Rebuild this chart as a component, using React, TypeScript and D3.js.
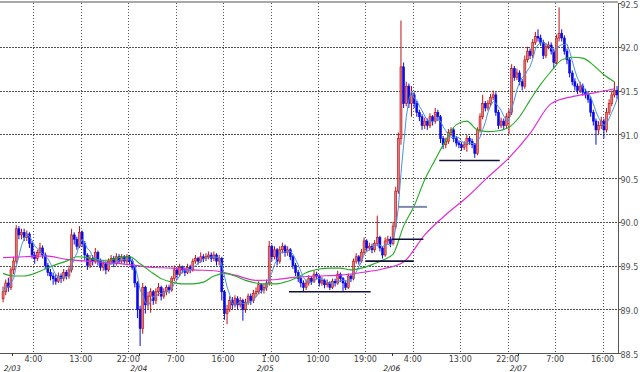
import React from "react";
import * as d3 from "d3";

const W = 640;
const H = 372;

// 30-minute candles, first bar starts 2/02 22:00 (hour -2 relative to 2/03 0:00)
const startHour = -2;
const barHours = 0.5;
const firstOpen = 89.12;

const closes = [
  89.20, 89.30, 89.25, 89.45, 89.55, 89.92, 89.85, 89.88, 89.82, 89.86,
  89.75, 89.62, 89.58, 89.65, 89.70, 89.62, 89.50, 89.42, 89.38, 89.35,
  89.32, 89.38, 89.35, 89.42, 89.38, 89.45, 89.85, 89.80, 89.72, 89.88,
  89.75, 89.62, 89.50, 89.58, 89.55, 89.65, 89.55, 89.48, 89.52, 89.45,
  89.55, 89.58, 89.52, 89.60, 89.55, 89.60, 89.55, 89.60, 89.55, 89.48,
  89.30, 89.00, 88.78, 89.25, 89.05, 89.15, 89.20, 89.10, 89.20, 89.25,
  89.15, 89.20, 89.25, 89.22, 89.35, 89.45, 89.40, 89.48, 89.45, 89.42,
  89.48, 89.45, 89.55, 89.58, 89.55, 89.60, 89.58, 89.60, 89.62, 89.58,
  89.62, 89.55, 89.58, 89.20, 88.95, 89.00, 89.10, 89.05, 89.12, 89.05,
  89.10, 89.00, 89.08, 89.15, 89.10, 89.18, 89.20, 89.28, 89.22, 89.25,
  89.30, 89.72, 89.60, 89.68, 89.55, 89.68, 89.72, 89.65, 89.68, 89.60,
  89.50, 89.42, 89.35, 89.30, 89.25, 89.30, 89.35, 89.32, 89.40, 89.38,
  89.30, 89.33, 89.28, 89.30, 89.25, 89.32, 89.30, 89.40, 89.35, 89.30,
  89.25, 89.38, 89.35, 89.55, 89.60, 89.55, 89.65, 89.78, 89.70, 89.72,
  89.68, 89.75, 89.82, 89.70, 89.62, 89.78, 89.80, 89.75, 89.95, 90.35,
  90.95, 91.77, 91.35, 91.55, 91.35, 91.45, 91.35, 91.25, 91.20, 91.10,
  91.15, 91.10, 91.20, 91.15, 91.25, 91.20, 90.95, 90.88, 90.92, 91.02,
  91.05, 90.95, 90.90, 90.88, 90.85, 90.88, 90.95, 90.92, 90.88, 90.78,
  91.05, 91.20, 91.35, 91.30, 91.35, 91.42, 91.45, 91.25, 91.10, 91.15,
  91.10, 91.20, 91.25, 91.75, 91.65, 91.70, 91.60, 91.55, 91.85, 91.95,
  91.90, 92.05, 92.12, 92.10, 92.05, 91.90, 92.00, 92.02, 91.95, 91.82,
  92.10, 92.15, 92.10, 91.95, 91.85, 91.70, 91.60, 91.55, 91.50, 91.55,
  91.48, 91.45, 91.40, 91.25, 91.15, 91.05, 91.10, 91.15, 91.05, 91.25,
  91.35, 91.45, 91.50, 91.45,
];

const highs = [
  89.26, 89.34, 89.36, 89.48, 89.60, 89.96, 89.95, 89.92, 89.92, 89.90,
  89.88, 89.78, 89.66, 89.68, 89.76, 89.73, 89.65, 89.53, 89.46, 89.42,
  89.40, 89.42, 89.41, 89.46, 89.45, 89.50, 89.92, 89.88, 89.83, 89.95,
  89.90, 89.78, 89.64, 89.62, 89.62, 89.70, 89.67, 89.58, 89.56, 89.55,
  89.58, 89.62, 89.61, 89.64, 89.63, 89.63, 89.62, 89.63, 89.62, 89.58,
  89.50, 89.32, 89.04, 89.30, 89.27, 89.20, 89.24, 89.22, 89.24, 89.30,
  89.27, 89.24, 89.28, 89.28, 89.38, 89.50, 89.48, 89.52, 89.50, 89.48,
  89.52, 89.51, 89.58, 89.62, 89.60, 89.65, 89.63, 89.64, 89.66, 89.65,
  89.66, 89.64, 89.62, 89.60, 89.22, 89.05, 89.15, 89.14, 89.16, 89.15,
  89.14, 89.12, 89.12, 89.18, 89.18, 89.22, 89.25, 89.32, 89.30, 89.29,
  89.34, 89.78, 89.74, 89.72, 89.70, 89.72, 89.76, 89.74, 89.72, 89.70,
  89.62, 89.53, 89.45, 89.38, 89.33, 89.34, 89.39, 89.38, 89.44, 89.43,
  89.40, 89.37, 89.35, 89.34, 89.32, 89.35, 89.35, 89.44, 89.42, 89.37,
  89.33, 89.41, 89.40, 89.58, 89.64, 89.62, 89.69, 89.82, 89.80, 89.76,
  89.75, 89.79, 90.07, 89.84, 89.72, 89.82, 89.84, 89.83, 90.00, 90.40,
  91.02, 92.30, 91.82, 91.60, 91.58, 91.55, 91.48, 91.38, 91.28, 91.23,
  91.19, 91.18, 91.24, 91.22, 91.30, 91.28, 91.22, 90.98, 90.96, 91.06,
  91.08, 91.07, 90.98, 90.93, 90.91, 90.92, 90.99, 90.98, 90.95, 90.90,
  91.08, 91.24, 91.45, 91.38, 91.39, 91.46, 91.50, 91.48, 91.28, 91.19,
  91.18, 91.24, 91.29, 91.80, 91.78, 91.75, 91.73, 91.63, 91.90, 92.00,
  91.98, 92.09, 92.17, 92.20, 92.14, 92.08, 92.04, 92.06, 92.05, 91.98,
  92.14, 92.45, 92.20, 92.13, 91.98, 91.88, 91.73, 91.64, 91.58, 91.60,
  91.58, 91.52, 91.49, 91.43, 91.28, 91.18, 91.15, 91.20, 91.18, 91.30,
  91.40, 91.50, 91.60, 91.55,
];

const lows = [
  89.08, 89.16, 89.20, 89.22, 89.40, 89.52, 89.80, 89.80, 89.78, 89.78,
  89.70, 89.58, 89.52, 89.55, 89.62, 89.58, 89.46, 89.38, 89.33, 89.28,
  89.28, 89.30, 89.30, 89.32, 89.34, 89.35, 89.42, 89.74, 89.68, 89.70,
  89.71, 89.56, 89.45, 89.47, 89.50, 89.52, 89.50, 89.44, 89.44, 89.40,
  89.43, 89.51, 89.48, 89.50, 89.52, 89.52, 89.52, 89.52, 89.51, 89.45,
  89.25, 88.90, 88.58, 88.72, 88.95, 89.00, 88.96, 89.05, 89.06, 89.15,
  89.10, 89.12, 89.16, 89.18, 89.20, 89.32, 89.35, 89.38, 89.41, 89.38,
  89.40, 89.41, 89.43, 89.52, 89.51, 89.53, 89.54, 89.55, 89.57, 89.54,
  89.55, 89.50, 89.50, 89.10, 88.88, 88.83, 88.97, 89.00, 89.02, 89.00,
  89.02, 88.87, 88.96, 89.05, 89.05, 89.07, 89.14, 89.17, 89.18, 89.18,
  89.21, 89.27, 89.55, 89.57, 89.50, 89.52, 89.64, 89.60, 89.61, 89.56,
  89.46, 89.38, 89.31, 89.25, 89.20, 89.22, 89.27, 89.28, 89.30, 89.34,
  89.26, 89.27, 89.24, 89.25, 89.22, 89.23, 89.26, 89.28, 89.31, 89.21,
  89.22, 89.23, 89.31, 89.33, 89.52, 89.51, 89.53, 89.62, 89.66, 89.67,
  89.64, 89.65, 89.72, 89.66, 89.58, 89.60, 89.74, 89.71, 89.73, 89.92,
  90.32, 90.88, 91.30, 91.32, 91.30, 91.20, 91.30, 91.20, 91.15, 91.05,
  91.06, 91.05, 91.07, 91.10, 91.12, 91.15, 90.90, 90.83, 90.84, 90.89,
  90.98, 90.91, 90.86, 90.84, 90.81, 90.82, 90.80, 90.88, 90.84, 90.73,
  90.76, 91.02, 91.17, 91.26, 91.27, 91.32, 91.39, 91.21, 91.06, 91.07,
  91.06, 91.07, 91.00, 91.22, 91.61, 91.62, 91.56, 91.50, 91.52, 91.82,
  91.86, 91.87, 92.02, 92.06, 92.01, 91.86, 91.87, 91.97, 91.91, 91.75,
  91.80, 92.06, 92.06, 91.91, 91.80, 91.65, 91.56, 91.50, 91.46, 91.47,
  91.44, 91.41, 91.36, 91.20, 91.10, 90.88, 91.00, 91.06, 90.95, 91.02,
  91.22, 91.32, 91.42, 91.40,
];

// Medium moving average (green), read every 4 bars
const greenStep = 4;
const greenMA = [
  89.41, 89.38, 89.38, 89.41, 89.46, 89.51, 89.55, 89.60, 89.59, 89.56,
  89.56, 89.59, 89.60, 89.52, 89.43, 89.35, 89.31, 89.29, 89.29, 89.31,
  89.38, 89.41, 89.38, 89.33, 89.30, 89.29, 89.29, 89.32, 89.37, 89.43,
  89.46, 89.47, 89.47, 89.45, 89.47, 89.51, 89.56, 89.63, 89.95, 90.18,
  90.48, 90.71, 90.93, 91.11, 91.15, 91.05, 91.03, 91.04, 91.08, 91.20,
  91.39, 91.57, 91.72, 91.85, 91.88, 91.87, 91.79, 91.68, 91.60,
];

// Long moving average (magenta), read every 8 bars
const magentaStep = 8;
const magentaMA = [
  89.59, 89.60, 89.61, 89.57, 89.55, 89.53, 89.51, 89.48, 89.47, 89.45,
  89.44, 89.39, 89.33, 89.34, 89.37, 89.38, 89.39, 89.42, 89.46, 89.54,
  89.85, 90.08, 90.28, 90.51, 90.73, 91.01, 91.35, 91.43, 91.47, 91.52,
];

// Short moving average period (blue)
const shortPeriod = 5;

// Horizontal support lines: price level, start hour, end hour
const levelPrices = [89.2, 89.55, 89.8, 90.17, 90.7];
const levelStart = [52.5, 67.0, 72.0, 73.2, 81.0];
const levelEnd = [68.0, 76.2, 78.0, 78.7, 92.5];

const yTicks = [92.5, 92.0, 91.5, 91.0, 90.5, 90.0, 89.5, 89.0, 88.5];
const yTickLabels = ["92.5", "92.0", "91.5", "91.0", "90.5", "90.0", "89.5", "89.0", "88.5"];

const hourTicks = [4, 13, 22, 31, 40, 49, 58, 67, 76, 85, 94, 103, 112];
const hourLabels = ["4:00", "13:00", "22:00", "7:00", "16:00", "1:00", "10:00", "19:00", "4:00", "13:00", "22:00", "7:00", "16:00"];

const dayTicks = [0, 24, 48, 72, 96];
const dayLabels = ["2/03", "2/04", "2/05", "2/06", "2/07"];

export default function App() {
  const plotRight = 618;
  const plotTop = 3;
  const plotBottom = 353;

  const x = d3.scaleLinear().domain([-2.334, 114.93]).range([0, plotRight]);
  const y = d3.scaleLinear().domain([88.5, 92.5]).range([plotBottom, plotTop]);

  const barTime = (i: number) => startHour + i * barHours + barHours / 2;

  const candles = closes.map((c, i) => ({
    i,
    o: i === 0 ? firstOpen : closes[i - 1],
    c,
    h: highs[i],
    l: lows[i],
  }));

  const shortMA = closes.map((_, i) =>
    d3.mean(closes.slice(Math.max(0, i - shortPeriod + 1), i + 1)) as number
  );

  const line = d3
    .line<[number, number]>()
    .x((d) => d[0])
    .y((d) => d[1]);
  const smooth = d3
    .line<[number, number]>()
    .x((d) => d[0])
    .y((d) => d[1])
    .curve(d3.curveMonotoneX);

  const bluePath = line(shortMA.map((v, i) => [x(barTime(i)), y(v)]));
  const greenPath = smooth(greenMA.map((v, k) => [x(barTime(k * greenStep)), y(v)]));
  const magentaPath = smooth(magentaMA.map((v, k) => [x(barTime(k * magentaStep)), y(v)]));

  const levelStyles = [
    { stroke: "#10103a", w: 1.6 },
    { stroke: "#10103a", w: 1.6 },
    { stroke: "#10103a", w: 1.6 },
    { stroke: "#7c88a8", w: 2 },
    { stroke: "#10103a", w: 1.6 },
  ];

  const font = "'DejaVu Sans', sans-serif";
  const bw = 2;

  return (
    <svg
      width={W}
      height={H}
      style={{ position: "absolute", left: 0, top: 0, background: "#fff" }}
    >
      <rect x={0} y={0} width={W} height={H} fill="#fff" />
      {/* horizontal grid */}
      {yTicks
        .filter((t) => t < 92.5 && t > 88.5)
        .map((t) => (
          <line
            key={"hg" + t}
            x1={0}
            x2={plotRight}
            y1={Math.round(y(t)) + 0.5}
            y2={Math.round(y(t)) + 0.5}
            stroke="#505050"
            strokeDasharray="2,1"
            shapeRendering="crispEdges"
          />
        ))}
      {/* vertical grid */}
      {hourTicks.map((h) => (
        <line
          key={"vg" + h}
          x1={Math.round(x(h)) + 0.5}
          x2={Math.round(x(h)) + 0.5}
          y1={plotTop}
          y2={plotBottom}
          stroke="#505050"
          strokeDasharray="1,2"
          shapeRendering="crispEdges"
        />
      ))}
      {/* top border */}
      <line x1={0} x2={plotRight} y1={2} y2={2} stroke="#a8a8a8" strokeWidth={2} />

      {/* candles */}
      {candles.map((d) => {
        const up = d.c >= d.o;
        const cx = x(barTime(d.i));
        const top = y(Math.max(d.o, d.c));
        const bot = y(Math.min(d.o, d.c));
        const col = up ? "#c01010" : "#0a0ae8";
        return (
          <g key={"c" + d.i}>
            <line x1={cx} x2={cx} y1={y(d.h)} y2={y(d.l)} stroke={col} strokeWidth={1} />
            <rect
              x={cx - bw / 2}
              y={top}
              width={bw}
              height={Math.max(1, bot - top)}
              fill={up ? "#e07a7a" : "#0a0ae8"}
              stroke={col}
              strokeWidth={0.6}
            />
          </g>
        );
      })}

      {/* moving averages */}
      <path d={magentaPath || ""} fill="none" stroke="#e02ad8" strokeWidth={1.2} />
      <path d={greenPath || ""} fill="none" stroke="#22aa22" strokeWidth={1.1} />
      <path d={bluePath || ""} fill="none" stroke="#4a90e8" strokeWidth={1} />

      {/* support lines */}
      {levelPrices.map((p, k) => (
        <line
          key={"lv" + k}
          x1={x(levelStart[k])}
          x2={x(levelEnd[k])}
          y1={y(p)}
          y2={y(p)}
          stroke={levelStyles[k].stroke}
          strokeWidth={levelStyles[k].w}
        />
      ))}

      {/* axes */}
      <line x1={plotRight + 0.5} x2={plotRight + 0.5} y1={plotTop} y2={plotBottom} stroke="#555" />
      <line x1={0} x2={plotRight + 1} y1={plotBottom + 0.5} y2={plotBottom + 0.5} stroke="#555" />
      {yTicks.map((t, k) => (
        <g key={"yt" + t}>
          <line x1={plotRight} x2={plotRight + 3} y1={Math.round(y(t)) + 0.5} y2={Math.round(y(t)) + 0.5} stroke="#555" />
          <text
            x={plotRight + 2.5}
            y={y(t) + 4.5}
            fontFamily={font}
            fontSize={8}
            fill="#505050"
          >
            {yTickLabels[k]}
          </text>
        </g>
      ))}
      {hourTicks.map((h, k) => (
        <text
          key={"hl" + k}
          x={x(h)}
          y={362.3}
          textAnchor="middle"
          fontFamily={font}
          fontSize={8}
          fill="#404040"
        >
          {hourLabels[k]}
        </text>
      ))}
      {dayTicks.map((d, k) => (
        <g key={"dl" + k}>
          <line
            x1={Math.round(x(d)) + 0.5}
            x2={Math.round(x(d)) + 0.5}
            y1={plotBottom}
            y2={plotBottom + 3}
            stroke="#333"
          />
          <text
            x={x(d)}
            y={371.2}
            textAnchor="middle"
            fontFamily={font}
            fontSize={7.6}
            fontStyle="italic"
            fill="#202020"
          >
            {dayLabels[k]}
          </text>
        </g>
      ))}
    </svg>
  );
}
